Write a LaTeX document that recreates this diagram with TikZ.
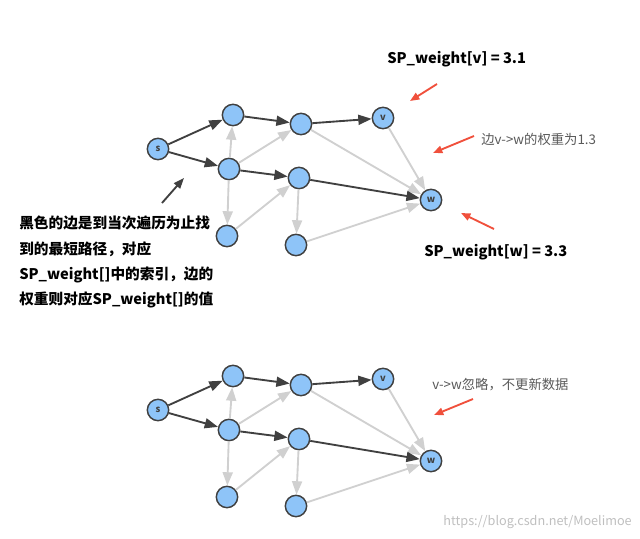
\documentclass[tikz,border=0pt]{standalone}
\usepackage{fontspec}
\setmainfont{Noto Sans CJK SC}
\usetikzlibrary{arrows.meta}
\definecolor{nfill}{HTML}{8EC4F8}
\definecolor{lite}{HTML}{D0D0D0}
\definecolor{dark}{HTML}{404040}
\definecolor{redar}{HTML}{F0503C}
\tikzset{
 vx/.style={circle,draw=dark,fill=nfill,line width=1.1pt,minimum size=16pt,inner sep=0pt,font=\fontsize{7}{7}\selectfont\bfseries,text=dark},
 de/.style={draw=dark,line width=1.4pt,-{Triangle[length=10pt,width=7.5pt]}},
 le/.style={draw=lite,line width=1.4pt,-{Triangle[length=10pt,width=7.5pt]}},
 ra/.style={draw=redar,line width=1.4pt,-{Triangle[length=7pt,width=5.5pt]}},
 bt/.style={font=\fontsize{11}{13}\selectfont\bfseries,anchor=west,inner sep=0pt},
 gt/.style={font=\fontsize{10}{12}\selectfont,text=black!65,anchor=west,inner sep=0pt}
}
\begin{document}
\begin{tikzpicture}[x=0.75pt,y=-0.75pt]
\useasboundingbox (0,0) rectangle (640,539);
\foreach \p/\dy in {t/0,u/261}{
 \node[vx] (s\p) at (158,149+\dy) {s};
 \node[vx] (a\p) at (233,115+\dy) {};
 \node[vx] (b\p) at (301,124+\dy) {};
 \node[vx] (v\p) at (383,118+\dy) {v};
 \node[vx] (c\p) at (229,169+\dy) {};
 \node[vx] (d\p) at (299,178+\dy) {};
 \node[vx] (w\p) at (431,200+\dy) {w};
 \node[vx] (e\p) at (227,236+\dy) {};
 \node[vx] (f\p) at (296,245+\dy) {};
 \draw[le] (c\p)--(a\p);
 \draw[le] (c\p)--(b\p);
 \draw[le] (c\p)--(e\p);
 \draw[le] (e\p)--(d\p);
 \draw[le] (d\p)--(f\p);
 \draw[le] (f\p)--(w\p);
 \draw[le] (b\p)--(w\p);
 \draw[le] (v\p)--(w\p);
 \draw[de] (s\p)--(a\p);
 \draw[de] (s\p)--(c\p);
 \draw[de] (a\p)--(b\p);
 \draw[de] (b\p)--(v\p);
 \draw[de] (c\p)--(d\p);
 \draw[de] (d\p)--(w\p);
}
\coordinate (r1s) at (437,84); \coordinate (r1e) at (410,101);
\coordinate (r2s) at (474,136); \coordinate (r2e) at (433,153);
\coordinate (r3s) at (494,229); \coordinate (r3e) at (461,213);
\coordinate (r4s) at (473,399); \coordinate (r4e) at (434,415);
\coordinate (k1s) at (162,203); \coordinate (k1e) at (184,178);
\draw[ra] (r1s)--(r1e);
\draw[ra] (r2s)--(r2e);
\draw[ra] (r3s)--(r3e);
\draw[ra] (r4s)--(r4e);
\draw[draw=dark,line width=1.4pt,-{Triangle[length=8pt,width=6pt]}] (k1s)--(k1e);
\node[bt] (t1) at (387,59) {SP\_weight[v] = 3.1};
\node[bt] (t2) at (424,252) {SP\_weight[w] = 3.3};
\node[gt] (t3) at (481,139) {边v->w的权重为1.3};
\node[gt] (t4) at (432,385) {v->w忽略，不更新数据};
\node[bt,align=left,anchor=north west,font=\fontsize{11}{19}\selectfont\bfseries] (t5) at (19,216) {黑色的边是到当次遍历为止找\\到的最短路径，对应\\SP\_weight[]中的索引，边的\\权重则对应SP\_weight[]的值};
\node[font=\fontsize{9.5}{10}\selectfont,text=black!25,anchor=east,inner sep=0pt] (wm) at (632,522) {https://blog.csdn.net/Moelimoe};
\end{tikzpicture}
\end{document}
